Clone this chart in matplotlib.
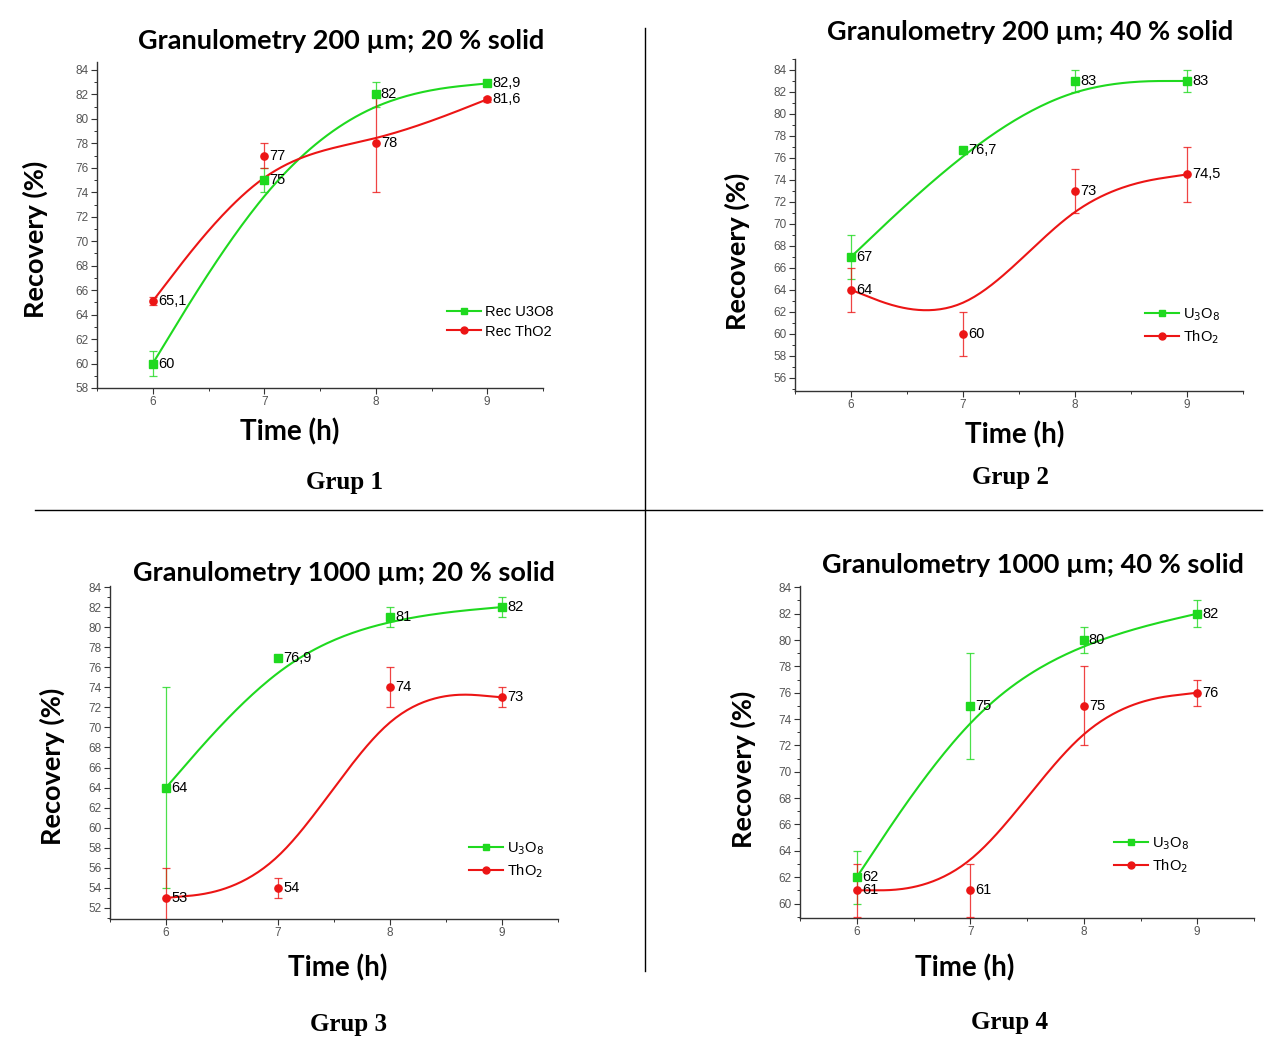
import numpy as np
import matplotlib
matplotlib.use('Agg')
import matplotlib.pyplot as plt
from matplotlib.lines import Line2D
from matplotlib.ticker import MultipleLocator

# data
hours = [6, 7, 8, 9]

g1_u3o8 = [60, 75, 82, 82.9]
g1_u3o8_err = [1, 1, 1, 0]
g1_tho2 = [65.1, 77, 78, 81.6]
g1_tho2_err = [0.3, 1, 4, 0.2]

g2_u3o8 = [67, 76.7, 83, 83]
g2_u3o8_err = [2, 0.3, 1, 1]
g2_tho2 = [64, 60, 73, 74.5]
g2_tho2_err = [2, 2, 2, 2.5]

g3_u3o8 = [64, 76.9, 81, 82]
g3_u3o8_err = [10, 0, 1, 1]
g3_tho2 = [53, 54, 74, 73]
g3_tho2_err = [3, 1, 2, 1]

g4_u3o8 = [62, 75, 80, 82]
g4_u3o8_err = [2, 4, 1, 1]
g4_tho2 = [61, 61, 75, 76]
g4_tho2_err = [2, 2, 3, 1]

titles = ['Granulometry 200 µm; 20 % solid', 'Granulometry 200 µm; 40 % solid',
          'Granulometry 1000 µm; 20 % solid', 'Granulometry 1000 µm; 40 % solid']
groups = ['Grup 1', 'Grup 2', 'Grup 3', 'Grup 4']
legend_names = [('Rec U3O8', 'Rec ThO2')] + [('U$_3$O$_8$', 'ThO$_2$')] * 3

GREEN = '#1fd91f'
RED = '#ec1515'

W, H = 1282, 1040


def px_box(left, top, right, bottom):
    # pixel box -> figure fraction rect
    return [left / W, 1 - bottom / H, (right - left) / W, (bottom - top) / H]


def bspline(xs, ys, n=40):
    # uniform cubic B-spline with tripled end points (Origin style B-spline)
    px = np.r_[xs[0], xs[0], xs, xs[-1], xs[-1]].astype(float)
    py = np.r_[ys[0], ys[0], ys, ys[-1], ys[-1]].astype(float)
    t = np.linspace(0, 1, n)
    b0 = (1 - t) ** 3 / 6
    b1 = (3 * t ** 3 - 6 * t ** 2 + 4) / 6
    b2 = (-3 * t ** 3 + 3 * t ** 2 + 3 * t + 1) / 6
    b3 = t ** 3 / 6
    out_x, out_y = [], []
    for i in range(len(px) - 3):
        out_x.append(b0 * px[i] + b1 * px[i + 1] + b2 * px[i + 2] + b3 * px[i + 3])
        out_y.append(b0 * py[i] + b1 * py[i + 1] + b2 * py[i + 2] + b3 * py[i + 3])
    return np.concatenate(out_x), np.concatenate(out_y)


def fmt(v):
    return f'{v:g}'.replace('.', ',')


panels = [
    dict(u=g1_u3o8, ue=g1_u3o8_err, t=g1_tho2, te=g1_tho2_err,
         box=(97, 62, 543, 388), ylim=(58, 84.65),
         title=(341, 41), ylab=(35, 239), xlab=(290, 432), grup=(345, 482), leg=(440, 322)),
    dict(u=g2_u3o8, ue=g2_u3o8_err, t=g2_tho2, te=g2_tho2_err,
         box=(795, 59, 1243, 391), ylim=(54.8, 85),
         title=(1030, 32), ylab=(737, 251), xlab=(1015, 435), grup=(1010, 478), leg=(1138, 326)),
    dict(u=g3_u3o8, ue=g3_u3o8_err, t=g3_tho2, te=g3_tho2_err,
         box=(110, 586, 558, 919), ylim=(50.9, 84.1),
         title=(344, 573), ylab=(52, 766), xlab=(338, 968), grup=(348, 1024), leg=(462, 860)),
    dict(u=g4_u3o8, ue=g4_u3o8_err, t=g4_tho2, te=g4_tho2_err,
         box=(800, 586, 1254, 918), ylim=(58.9, 84.1),
         title=(1033, 565), ylab=(743, 769), xlab=(965, 968), grup=(1010, 1022), leg=(1107, 855)),
]

fig = plt.figure(figsize=(W / 100, H / 100), dpi=100)

for k, p in enumerate(panels):
    ax = fig.add_axes(px_box(*p['box']))
    for vals, errs, col, mk in [(p['u'], p['ue'], GREEN, 's'), (p['t'], p['te'], RED, 'o')]:
        sx, sy = bspline(hours, vals)
        ax.plot(sx, sy, color=col, lw=1.5, zorder=2)
        ax.errorbar(hours, vals, yerr=errs, fmt='none', ecolor=col, elinewidth=0.9,
                    capsize=3, capthick=0.9, alpha=0.8, zorder=3)
        ax.plot(hours, vals, linestyle='none', marker=mk, ms=5.2, color=col, zorder=4)
        for x, v in zip(hours, vals):
            ax.text(x + 0.045, v, fmt(v), fontsize=10.5, family='Liberation Sans',
                    va='center', ha='left', zorder=5)

    ax.set_xlim(5.5, 9.5)
    ax.set_ylim(*p['ylim'])
    ax.xaxis.set_major_locator(MultipleLocator(1))
    ax.xaxis.set_minor_locator(MultipleLocator(0.5))
    ax.yaxis.set_major_locator(MultipleLocator(2))
    ax.yaxis.set_minor_locator(MultipleLocator(1))
    for side in ['top', 'right']:
        ax.spines[side].set_visible(False)
    for side in ['left', 'bottom']:
        ax.spines[side].set_color('#333333')
        ax.spines[side].set_linewidth(1.0)
    ax.tick_params(which='major', length=4, width=0.8, color='#333333',
                   labelsize=8.5, labelcolor='#555555', pad=2)
    ax.tick_params(which='minor', length=2.5, width=0.7, color='#333333')
    for lab in ax.get_xticklabels() + ax.get_yticklabels():
        lab.set_family('Liberation Sans')
    ax.patch.set_alpha(0)

    handles = [Line2D([], [], color=GREEN, marker='s', ms=5, lw=1.5),
               Line2D([], [], color=RED, marker='o', ms=5, lw=1.5)]
    lx, ly = p['leg']
    ax.legend(handles, legend_names[k], loc='center left', bbox_to_anchor=(lx / W, 1 - ly / H),
              bbox_transform=fig.transFigure, frameon=False, handlelength=2.3,
              handletextpad=0.3, borderpad=0, labelspacing=0.35,
              prop={'family': 'Liberation Sans', 'size': 10.5})

    tx, ty = p['title']
    fig.text(tx / W, 1 - ty / H, titles[k], ha='center', va='center',
             fontsize=19.5, fontweight='bold', family='Lato')
    yx, yy = p['ylab']
    fig.text(yx / W, 1 - yy / H, 'Recovery (%)', ha='center', va='center', rotation=90,
             fontsize=19.5, fontweight='bold', family='Lato')
    xx, xy = p['xlab']
    fig.text(xx / W, 1 - xy / H, 'Time (h)', ha='center', va='center',
             fontsize=20, fontweight='bold', family='Lato')
    gx, gy = p['grup']
    fig.text(gx / W, 1 - gy / H, groups[k], ha='center', va='center',
             fontsize=18, fontweight='bold', family='Liberation Serif')

# divider lines between the four groups
fig.add_artist(Line2D([35 / W, 1262 / W], [1 - 510 / H, 1 - 510 / H], color='black', lw=1))
fig.add_artist(Line2D([645 / W, 645 / W], [1 - 28 / H, 1 - 971 / H], color='black', lw=1))

fig.savefig('out.png', dpi=100)
